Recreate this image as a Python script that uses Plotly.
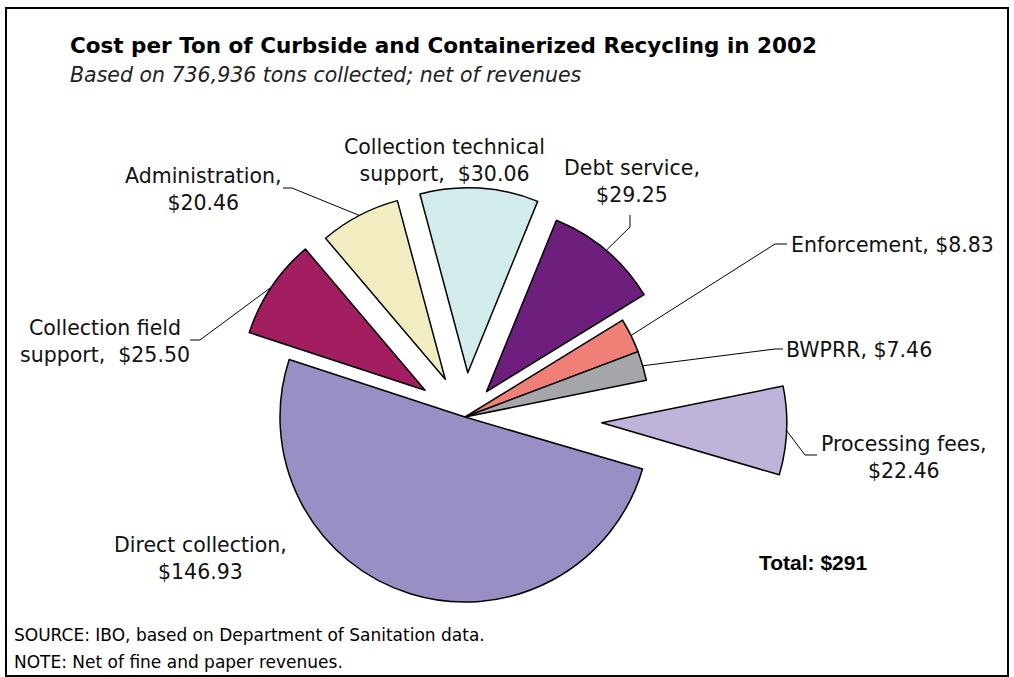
import math
import plotly.graph_objects as go

# ---------------- data ----------------
categories = ["Collection technical support", "Debt service", "Enforcement", "BWPRR",
              "Processing fees", "Direct collection", "Collection field support", "Administration"]
costs = [30.06, 29.25, 8.83, 7.46, 22.46, 146.93, 25.50, 20.46]
label_templates = ["Collection technical<br>support,\u00a0 ${:.2f}",
                   "Debt service,<br>${:.2f}",
                   "Enforcement, ${:.2f}",
                   "BWPRR, ${:.2f}",
                   "Processing fees,<br>${:.2f}",
                   "Direct collection,<br>${:.2f}",
                   "Collection field<br>support,\u00a0 ${:.2f}",
                   "Administration,<br>${:.2f}"]
total_label = "Total: $291"
title_text = "Cost per Ton of Curbside and Containerized Recycling in 2002"
subtitle_text = "Based on 736,936 tons collected; net of revenues"
source_text = "SOURCE: IBO, based on Department of Sanitation data."
note_text = "NOTE: Net of fine and paper revenues."

# ---------------- style ----------------
colors = ["#D2EBEB", "#6E1F7E", "#F07F78", "#A5A6A9", "#C0B3D9", "#9A8FC5", "#A21E60", "#F2EDC0"]
pulls = [0.24, 0.18, 0.0, 0.0, 0.74, 0.0, 0.26, 0.23]
detached = 4  # processing fees, drawn as its own trace (pulled far out)

W, H = 1014, 677
CX, CY, R = 465, 417, 185
ROT = -15
FONT = "DejaVu Sans"
LBL_SIZE = 20.5


def px(x):
    return x / W


def py(y):
    return 1 - y / H


total = sum(costs)
starts, mids = [], []
acc = 0.0
for v in costs:
    s = ROT + 360 * acc / total
    e = ROT + 360 * (acc + v) / total
    starts.append(s)
    mids.append((s + e) / 2)
    acc += v


def arc_point(i):
    a = math.radians(mids[i])
    k = (1 + pulls[i]) * R
    return CX + k * math.sin(a), CY - k * math.cos(a)


fig = go.Figure()

# main pie (all slices except the far-detached one)
main_pull = [0 if i == detached else p for i, p in enumerate(pulls)]
half = R * (1 + max(main_pull))
main_colors = ["rgba(0,0,0,0)" if i == detached else c for i, c in enumerate(colors)]
main_lw = [0 if i == detached else 1.5 for i in range(len(costs))]
fig.add_trace(go.Pie(
    labels=categories, values=costs, sort=False, direction="clockwise", rotation=ROT,
    pull=main_pull, textinfo="none", hoverinfo="label+value", showlegend=False,
    marker=dict(colors=main_colors, line=dict(color="black", width=main_lw)),
    domain=dict(x=[px(CX - half), px(CX + half)], y=[py(CY + half), py(CY - half)]),
))

# detached slice: same geometry, centre shifted along its mid angle
a = math.radians(mids[detached])
dcx = CX + pulls[detached] * R * math.sin(a)
dcy = CY - pulls[detached] * R * math.cos(a)
det_colors = [c if i == detached else "rgba(0,0,0,0)" for i, c in enumerate(colors)]
det_lw = [1.5 if i == detached else 0 for i in range(len(costs))]
fig.add_trace(go.Pie(
    labels=categories, values=costs, sort=False, direction="clockwise", rotation=ROT,
    textinfo="none", hoverinfo="skip", showlegend=False,
    marker=dict(colors=det_colors, line=dict(color="black", width=det_lw)),
    domain=dict(x=[px(dcx - R), px(dcx + R)], y=[py(dcy + R), py(dcy - R)]),
))

# label placement (pixel positions) and leader-line elbows
label_pos = [
    (444, 160, "center"),
    (632, 182, "center"),
    (789, 245, "left"),
    (784, 350, "left"),
    (904, 457, "center"),
    (200, 558, "center"),
    (105, 341, "center"),
    (203, 189, "center"),
]
leader_elbows = {
    1: [(630, 215), (630, 227)],
    2: [(787, 244), (775, 244)],
    3: [(783, 349), (775, 349)],
    4: [(817, 455), (805, 455)],
    6: [(190, 340), (200, 340)],
    7: [(283, 188), (292, 188)],
}

annotations = []
for i, (x, y, anc) in enumerate(label_pos):
    annotations.append(dict(
        x=px(x), y=py(y), xref="paper", yref="paper", showarrow=False,
        xanchor=anc, yanchor="middle", align="center",
        text=label_templates[i].format(costs[i]),
        font=dict(family=FONT, size=LBL_SIZE, color="#111111"),
    ))

shapes = []
for i, pts in leader_elbows.items():
    pts = pts + [arc_point(i)]
    path = "M " + " L ".join(f"{px(x):.5f},{py(y):.5f}" for x, y in pts)
    shapes.append(dict(type="path", path=path, xref="paper", yref="paper",
                       line=dict(color="black", width=1)))

# outer frame
shapes.append(dict(type="rect", xref="paper", yref="paper",
                   x0=px(6), x1=px(1008), y0=py(676), y1=py(8),
                   line=dict(color="black", width=2)))

annotations += [
    dict(x=px(68), y=py(46), xref="paper", yref="paper", showarrow=False,
         xanchor="left", yanchor="middle", text="<b>" + title_text + "</b>",
         font=dict(family=FONT, size=21.5, color="black")),
    dict(x=px(68), y=py(75), xref="paper", yref="paper", showarrow=False,
         xanchor="left", yanchor="middle", text="<i>" + subtitle_text + "</i>",
         font=dict(family=FONT, size=20.5, color="#222222")),
    dict(x=px(757), y=py(562), xref="paper", yref="paper", showarrow=False,
         xanchor="left", yanchor="middle", text="<b>" + total_label + "</b>",
         font=dict(family="Liberation Sans", size=21, color="black")),
    dict(x=px(12), y=py(635), xref="paper", yref="paper", showarrow=False,
         xanchor="left", yanchor="middle", text=source_text,
         font=dict(family=FONT, size=17, color="black")),
    dict(x=px(12), y=py(662), xref="paper", yref="paper", showarrow=False,
         xanchor="left", yanchor="middle", text=note_text,
         font=dict(family=FONT, size=17, color="black")),
]

fig.update_layout(
    width=W, height=H, margin=dict(l=0, r=0, t=0, b=0),
    paper_bgcolor="white", plot_bgcolor="white",
    annotations=annotations, shapes=shapes,
)

fig.write_html("out.html")
